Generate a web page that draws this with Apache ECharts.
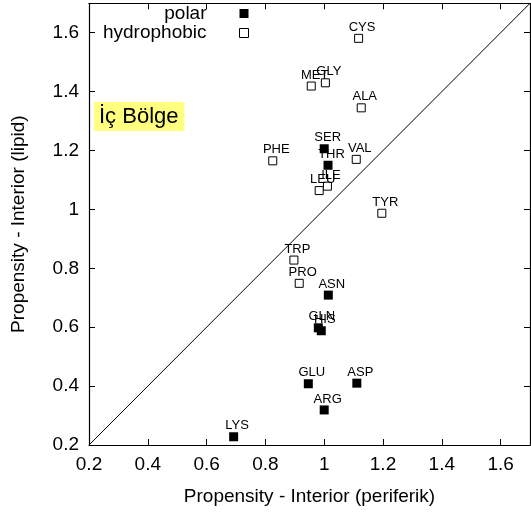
<!DOCTYPE html>
<html>
<head>
<meta charset="utf-8">
<script src="https://cdn.jsdelivr.net/npm/echarts@6/dist/echarts.min.js"></script>
<style>
html,body{margin:0;padding:0;background:#fff;}
#chart{width:531px;height:515px;}
</style>
</head>
<body>
<div id="chart"></div>
<script>
// Data
const polarNames = ['SER', 'THR', 'ASN', 'GLN', 'HIS', 'GLU', 'ASP', 'ARG', 'LYS'];
const polarX = [1.000, 1.013, 1.014, 0.980, 0.990, 0.946, 1.111, 1.000, 0.692];
const polarY = [1.206, 1.150, 0.709, 0.598, 0.588, 0.408, 0.410, 0.319, 0.228];

const hydroNames = ['CYS', 'MET', 'GLY', 'ALA', 'PHE', 'VAL', 'ILE', 'LEU', 'TYR', 'TRP', 'PRO'];
const hydroX = [1.117, 0.956, 1.004, 1.126, 0.825, 1.109, 1.011, 0.983, 1.196, 0.897, 0.915];
const hydroY = [1.581, 1.419, 1.430, 1.345, 1.165, 1.170, 1.079, 1.064, 0.987, 0.828, 0.749];

const diagonal = [[0.2, 0.2], [1.7, 1.7]];
const axisMin = 0.2, axisMax = 1.7, axisStep = 0.2;
const seriesNames = ['polar', 'hydrophobic'];
const xTitle = 'Propensity - Interior (periferik)';
const yTitle = 'Propensity - Interior (lipid)';
const regionLabel = 'İç Bölge';

const FONT = 'Liberation Sans, Arial, Helvetica, sans-serif';

function toPoints(names, xs, ys) {
  return names.map((n, i) => ({ name: n, value: [xs[i], ys[i]] }));
}

const chart = echarts.init(document.getElementById('chart'), null, { renderer: 'canvas' });

const baseAxis = {
  min: axisMin, max: axisMax, interval: axisStep,
  axisLine: { show: true, onZero: false, lineStyle: { color: '#000', width: 1.2 } },
  axisTick: { show: true, inside: true, length: 6, lineStyle: { color: '#000', width: 1 } },
  splitLine: { show: false },
};

const labelStyle = {
  show: true, position: 'top', distance: 0, offset: [3.5, 0],
  formatter: p => p.name, color: '#000', fontSize: 13, fontFamily: FONT
};

chart.setOption({
  animation: false,
  backgroundColor: '#fff',
  grid: { left: 89, right: 1, top: 3.3, bottom: 70, containLabel: false },
  xAxis: [
    Object.assign({}, baseAxis, {
      type: 'value', position: 'bottom',
      name: xTitle, nameLocation: 'middle', nameGap: 42,
      nameTextStyle: { fontSize: 19, fontFamily: FONT, color: '#000' },
      axisLabel: { fontSize: 19, fontFamily: FONT, color: '#000', margin: 10, showMaxLabel: false }
    }),
    Object.assign({}, baseAxis, {
      type: 'value', position: 'top', axisLabel: { show: false }
    })
  ],
  yAxis: [
    Object.assign({}, baseAxis, {
      type: 'value', position: 'left',
      name: yTitle, nameLocation: 'middle', nameGap: 61,
      nameTextStyle: { fontSize: 19, fontFamily: FONT, color: '#000' },
      axisLabel: { fontSize: 19, fontFamily: FONT, color: '#000', margin: 10, showMaxLabel: false }
    }),
    Object.assign({}, baseAxis, {
      type: 'value', position: 'right', axisLabel: { show: false }
    })
  ],
  legend: {
    data: [
      { name: seriesNames[0], itemStyle: { color: '#000', borderWidth: 0, opacity: 1 } },
      { name: seriesNames[1], itemStyle: { color: '#fff', borderColor: '#000', borderWidth: 1, opacity: 1 } }
    ],
    orient: 'vertical', align: 'right',
    right: 282, top: 4, padding: 0, itemGap: 0.5,
    itemWidth: 9, itemHeight: 9, icon: 'rect',
    textStyle: { fontSize: 19, fontFamily: FONT, color: '#000', lineHeight: 19, padding: [0, 28, 0, 0] },
    selectedMode: false
  },
  graphic: [{
    type: 'text', left: 94, top: 102, z: 100,
    style: {
      text: regionLabel, fontSize: 22, fontFamily: FONT, fill: '#000',
      backgroundColor: '#ffff80', padding: [4, 6, 3, 5]
    }
  }],
  series: [
    {
      type: 'line', data: diagonal, symbol: 'none', silent: true,
      lineStyle: { color: '#000', width: 1 }, z: 1, legendHoverLink: false
    },
    {
      name: seriesNames[0], type: 'scatter', symbol: 'rect', symbolSize: 9,
      data: toPoints(polarNames, polarX, polarY),
      itemStyle: { color: '#000', borderColor: '#000', borderWidth: 0, opacity: 1 },
      label: labelStyle, z: 3
    },
    {
      name: seriesNames[1], type: 'scatter', symbol: 'rect', symbolSize: 8,
      data: toPoints(hydroNames, hydroX, hydroY),
      itemStyle: { color: '#fff', borderColor: '#000', borderWidth: 1, opacity: 1 },
      label: labelStyle, z: 3
    }
  ]
});
</script>
</body>
</html>
